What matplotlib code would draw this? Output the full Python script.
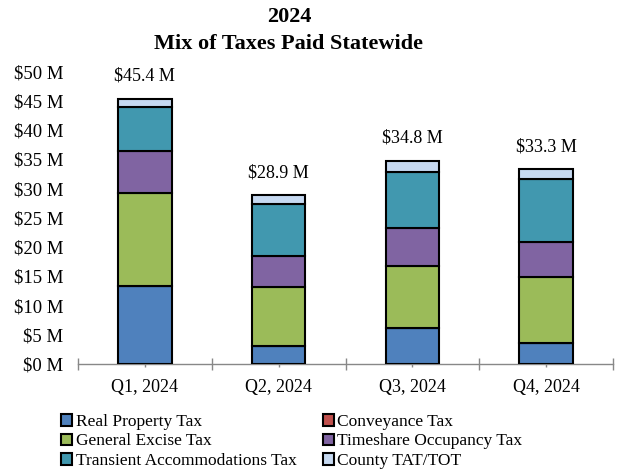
import matplotlib
matplotlib.use("Agg")
import matplotlib.pyplot as plt
import numpy as np

plt.rcParams['font.family'] = ['Liberation Serif', 'DejaVu Serif']

quarters = ["Q1, 2024", "Q2, 2024", "Q3, 2024", "Q4, 2024"]
totals_labels = ["$45.4 M", "$28.9 M", "$34.8 M", "$33.3 M"]
real_property = [13.3, 3.1, 6.1, 3.6]
conveyance = [0.0, 0.0, 0.0, 0.0]
general_excise = [16.0, 10.1, 10.7, 11.2]
timeshare = [7.2, 5.2, 6.4, 6.1]
transient = [7.5, 8.9, 9.6, 10.7]
county_tat = [1.4, 1.6, 2.0, 1.7]

series = [
    ("Real Property Tax", real_property, "#4F81BD"),
    ("Conveyance Tax", conveyance, "#C0504D"),
    ("General Excise Tax", general_excise, "#9BBB59"),
    ("Timeshare Occupancy Tax", timeshare, "#8064A2"),
    ("Transient Accommodations Tax", transient, "#4198AF"),
    ("County TAT/TOT", county_tat, "#C6D9F1"),
]

fig = plt.figure(figsize=(6.23, 4.69), dpi=100)
ax = fig.add_axes([0.1252, 0.2239, 0.984 - 0.1252, 0.8471 - 0.2239])

x = np.arange(len(quarters))
bottom = np.zeros(len(quarters))
handles = []
for name, vals, col in series:
    vals = np.array(vals)
    b = ax.bar(x, vals, 0.4, bottom=bottom, color=col, edgecolor="black",
               linewidth=1.5, label=name, zorder=3)
    handles.append(b)
    bottom += vals

for xi, tot, lab in zip(x, bottom, totals_labels):
    ax.text(xi, tot + 3.8, lab, ha="center", va="center", fontsize=13)

ax.set_ylim(0, 50)
ax.set_xlim(-0.5, len(quarters) - 0.5)
ax.set_yticks(np.arange(0, 51, 5))
ax.set_yticklabels([f"${v} M" for v in range(0, 51, 5)], fontsize=13.5)
ax.tick_params(axis="y", length=0, pad=10.5)
ax.set_xticks(np.arange(-0.5, len(quarters), 1.0))
ax.set_xticklabels([])
ax.set_xticks(x, minor=True)
ax.set_xticklabels(quarters, minor=True, fontsize=13)
ax.tick_params(axis="x", which="major", direction="inout", length=8, color="#888888", width=1)
ax.tick_params(axis="x", which="minor", direction="inout", length=5, color="#888888", width=1, pad=8)
for s in ["top", "right", "left"]:
    ax.spines[s].set_visible(False)
ax.spines["bottom"].set_color("#888888")
ax.spines["bottom"].set_linewidth(1)

fig.text(289 / 623, 1 - 17 / 469, "2024", ha="center", va="center", fontsize=16, fontweight="bold")
fig.text(289 / 623, 1 - 44 / 469, "Mix of Taxes Paid Statewide", ha="center", va="center",
         fontsize=16, fontweight="bold")

order = [0, 2, 4, 1, 3, 5]
leg = fig.legend([handles[i] for i in order], [series[i][0] for i in order],
                 loc="upper left", bbox_to_anchor=(54 / 623, 1 - 407 / 469), ncol=2,
                 frameon=False, fontsize=12.5, handlelength=0.65, handleheight=0.65,
                 handletextpad=0.2, columnspacing=1.5, labelspacing=0.2, borderaxespad=0)

fig.savefig("out.png", dpi=100)
